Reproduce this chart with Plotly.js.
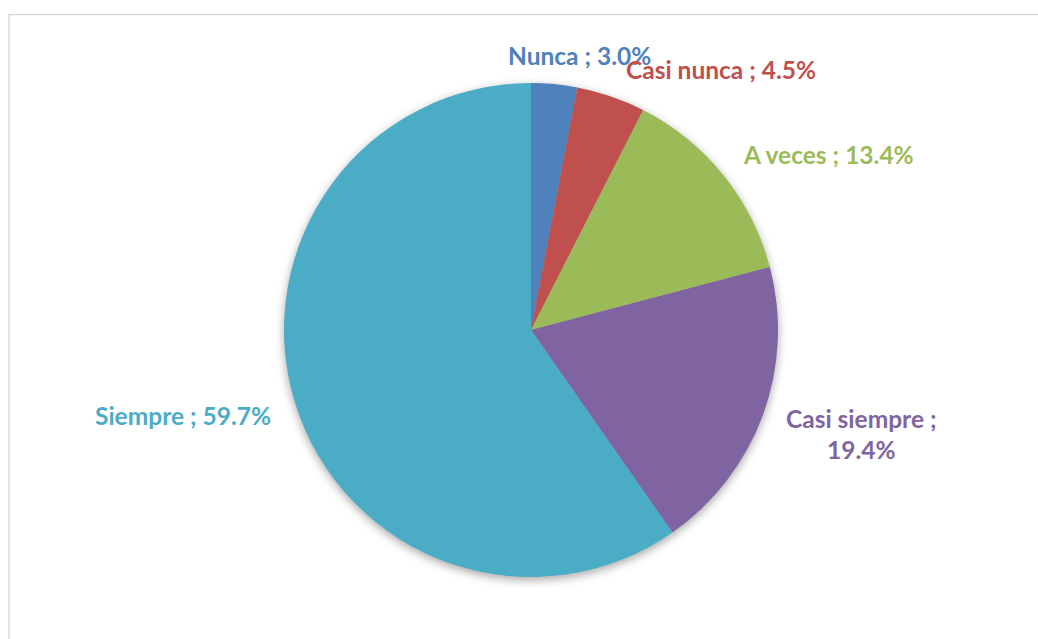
<!DOCTYPE html>
<html><head><meta charset="utf-8">
<script src="https://cdn.plot.ly/plotly-3.0.1.min.js"></script>
<style>
html,body{margin:0;padding:0;background:#fff;}
#chart{width:1038px;height:639px;}
.pielayer{filter:drop-shadow(0px 3px 5px rgba(0,0,0,0.35));}
</style></head>
<body><div id="chart"></div>
<script>
const categories = ["Nunca", "Casi nunca", "A veces", "Casi siempre", "Siempre"];
const percents = [3.0, 4.5, 13.4, 19.4, 59.7];
const colors = ["#4F81BD", "#C0504D", "#9BBB59", "#8064A2", "#4BACC6"];

const W = 1038, H = 639;
const cx = 531, cy = 330, r = 247;
// label anchor positions (pixels)
const labelPos = [[579, 55], [721, 69], [828, 155], [861, 418], [183, 415]];

const annotations = [];
categories.forEach((c, i) => {
  const txt = c + " ; " + percents[i].toFixed(1) + "%";
  const [px, py] = labelPos[i];
  const font = {family: "Lato, 'Open Sans', sans-serif", size: 24.5, color: colors[i], weight: "bold"};
  if (c === "Casi siempre") {
    annotations.push({xref: "paper", yref: "paper", x: px / W, y: 1 - py / H, xanchor: "center", yanchor: "middle",
      text: "<b>" + c + " ;</b>", showarrow: false, font: font});
    annotations.push({xref: "paper", yref: "paper", x: px / W, y: 1 - (py + 32) / H, xanchor: "center", yanchor: "middle",
      text: "<b>" + percents[i].toFixed(1) + "%</b>", showarrow: false, font: font});
  } else {
    annotations.push({xref: "paper", yref: "paper", x: px / W, y: 1 - py / H, xanchor: "center", yanchor: "middle",
      text: "<b>" + txt + "</b>", showarrow: false, font: font});
  }
});

const data = [{
  type: "pie",
  labels: categories,
  values: percents,
  sort: false,
  direction: "clockwise",
  rotation: 0,
  textinfo: "none",
  hoverinfo: "label+percent",
  marker: {colors: colors, line: {width: 0}},
  domain: {x: [(cx - r) / W, (cx + r) / W], y: [1 - (cy + r) / H, 1 - (cy - r) / H]}
}];

const layout = {
  width: W, height: H,
  margin: {l: 0, r: 0, t: 0, b: 0},
  paper_bgcolor: "#fff",
  showlegend: false,
  annotations: annotations,
  shapes: [{type: "rect", xref: "paper", yref: "paper", x0: 9 / W, x1: 1.01, y0: -0.01, y1: 1 - 14.5 / H,
    line: {color: "#D9D9D9", width: 1.5}, fillcolor: "rgba(0,0,0,0)", layer: "below"}]
};

Plotly.newPlot("chart", data, layout, {displayModeBar: false, staticPlot: true});
</script></body></html>
